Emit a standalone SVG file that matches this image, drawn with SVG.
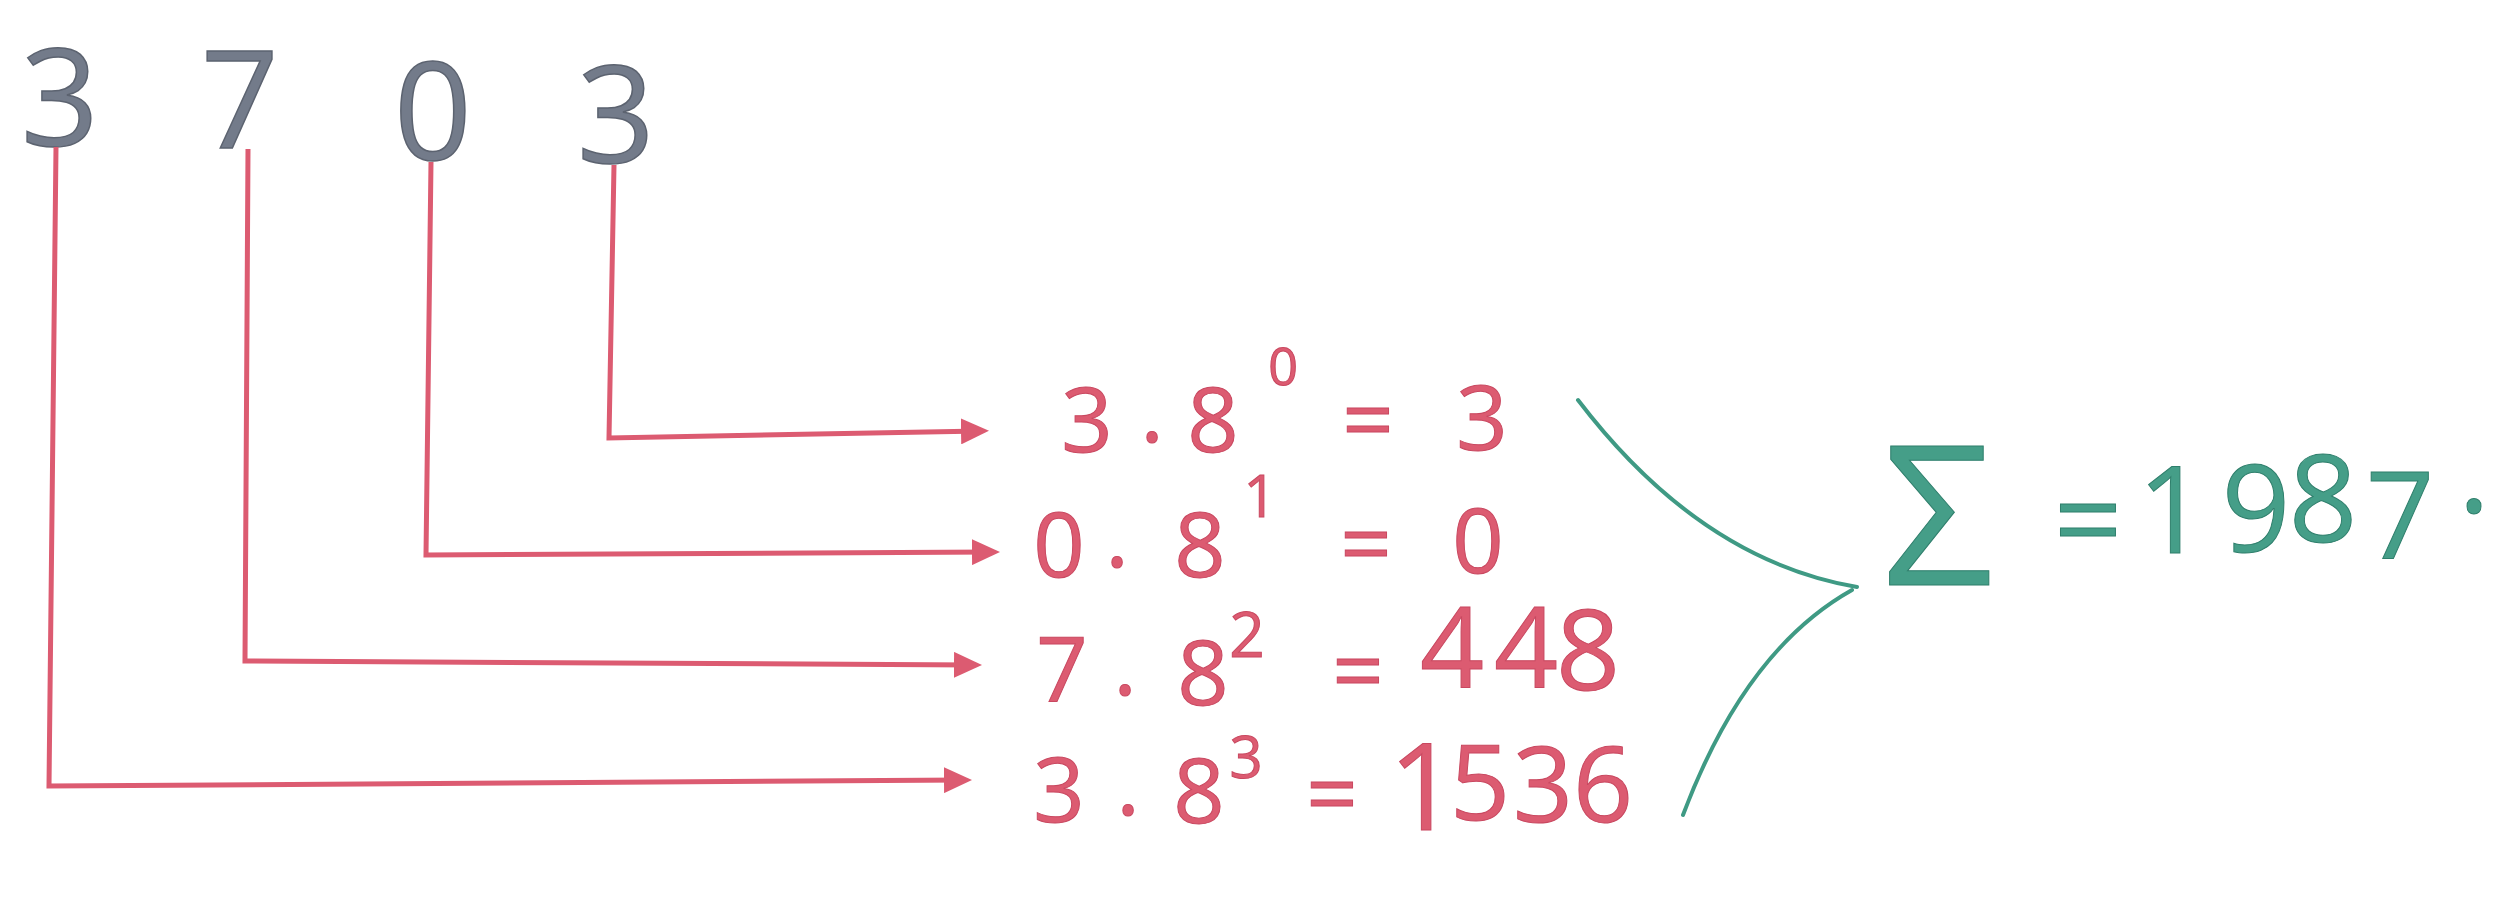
<svg xmlns="http://www.w3.org/2000/svg" width="2496" height="904" viewBox="0 0 2496 904">
<defs>
<style>
.digit{font-family:"Open Sans","Liberation Sans",Arial,sans-serif;font-weight:400;font-size:136px;fill:#737b8a;stroke:#5c6370;stroke-width:1.5;text-anchor:middle}
.red{font-family:"Open Sans","Liberation Sans",Arial,sans-serif;font-weight:400;fill:#dc5b71;stroke:#c94860;stroke-width:1;text-anchor:middle}
.grn{font-family:"Open Sans","Liberation Sans",Arial,sans-serif;font-weight:400;fill:#459e88;stroke:#2f7f6c;stroke-width:1;text-anchor:middle}
.conn{fill:none;stroke:#dc5b71;stroke-width:5;stroke-linejoin:miter}
.brk{fill:none;stroke:#3f9a84;stroke-width:4;stroke-linecap:round}
</style>
<marker id="ah" viewBox="0 0 28 26" refX="20" refY="13" markerWidth="28" markerHeight="26" markerUnits="userSpaceOnUse" orient="auto">
<path d="M0,0 L28,13 L0,26 Z" fill="#dc5b71"/>
</marker>
</defs>
<rect width="2496" height="904" fill="#ffffff"/>

<g id="d3-high"><text class="digit" x="60" y="146">3</text></g>
<g id="d7"><text class="digit" x="240" y="148">7</text></g>
<g id="d0"><text class="digit" x="433" y="160">0</text></g>
<g id="d3-low"><text class="digit" x="616" y="163">3</text></g>

<g id="connectors">
<path class="conn" marker-end="url(#ah)" d="M614,165 L609,438 L981,431"/>
<path class="conn" marker-end="url(#ah)" d="M431,162 L426,555 L992,552"/>
<path class="conn" marker-end="url(#ah)" d="M248,149 L245,661 L974,665"/>
<path class="conn" marker-end="url(#ah)" d="M56,147 L49,786 L964,780"/>
<path class="brk" d="M1578,400 Q1700,560 1857,587"/>
<path class="brk" d="M1852,590 Q1745,650 1683,815"/>
</g>

<g id="row0">
<text class="red" font-size="90"><tspan x="1087" y="452">3</tspan><tspan x="1152" y="442">.</tspan><tspan x="1213" y="452">8</tspan><tspan x="1283" y="385" font-size="52">0</tspan><tspan x="1368" y="452">=</tspan><tspan x="1482" y="450">3</tspan></text>
</g>
<g id="row1">
<text class="red" font-size="90"><tspan x="1059" y="577">0</tspan><tspan x="1117" y="567">.</tspan><tspan x="1200" y="577">8</tspan><tspan x="1260" y="517" font-size="58">1</tspan><tspan x="1366" y="576">=</tspan><tspan x="1478" y="573">0</tspan></text>
</g>
<g id="row2">
<text class="red" font-size="90"><tspan x="1062" y="702">7</tspan><tspan x="1125" y="695">.</tspan><tspan x="1203" y="705">8</tspan><tspan x="1247" y="657" font-size="62">2</tspan><tspan x="1358" y="703">=</tspan><tspan x="1452" y="688" font-size="112">4</tspan><tspan x="1526" y="688" font-size="112">4</tspan><tspan x="1588" y="690" font-size="112">8</tspan></text>
</g>
<g id="row3">
<text class="red" font-size="90"><tspan x="1059" y="822">3</tspan><tspan x="1128" y="815">.</tspan><tspan x="1199" y="823">8</tspan><tspan x="1246" y="778" font-size="58">3</tspan><tspan x="1332" y="826">=</tspan><tspan x="1423" y="830" font-size="120">1</tspan><tspan x="1480" y="820" font-size="105">5</tspan><tspan x="1543" y="822" font-size="105">3</tspan><tspan x="1603" y="822" font-size="105">6</tspan></text>
</g>

<g id="sum">
<text class="grn" x="1938" y="585" font-size="195" font-weight="300">Σ</text>
<text class="grn" font-size="120"><tspan x="2088" y="563">=</tspan><tspan x="2172" y="553">1</tspan><tspan x="2256" y="552">9</tspan><tspan x="2323" y="542">8</tspan><tspan x="2400" y="558">7</tspan><tspan x="2474" y="548">·</tspan></text>
</g>
</svg>
